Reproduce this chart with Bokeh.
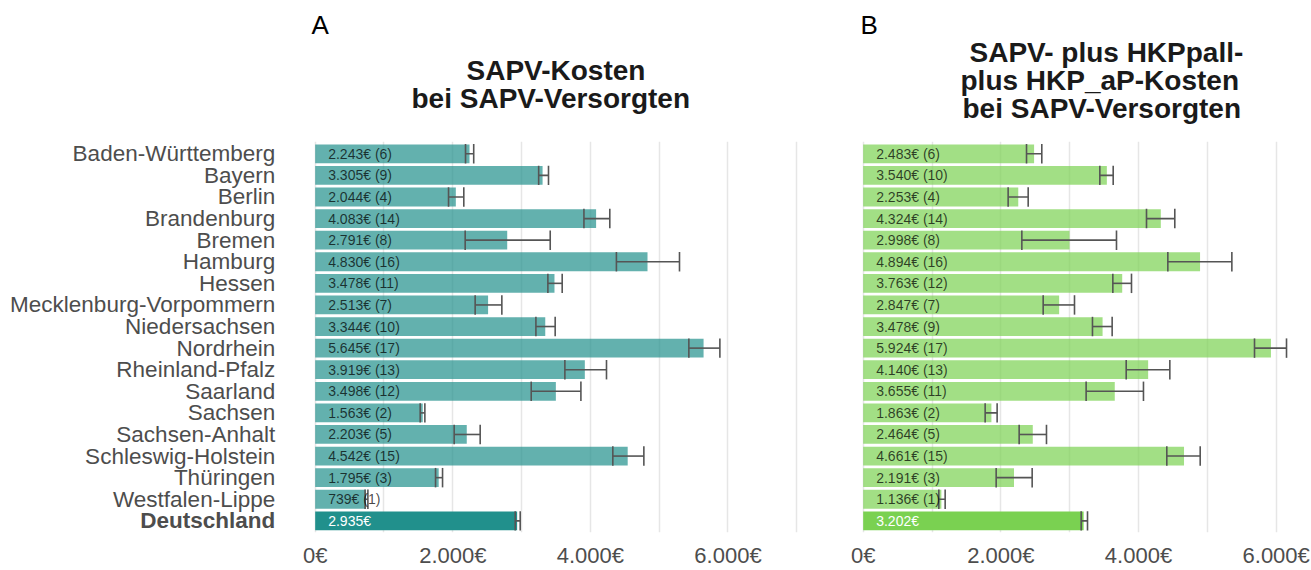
from bokeh.plotting import figure
from bokeh.layouts import row
from bokeh.models import Range1d, FixedTicker, ColumnDataSource, Title
from bokeh.core.properties import value
from bokeh.embed import file_html
from bokeh.resources import INLINE

regions = ["Baden-Württemberg", "Bayern", "Berlin", "Brandenburg", "Bremen",
           "Hamburg", "Hessen", "Mecklenburg-Vorpommern", "Niedersachsen",
           "Nordrhein", "Rheinland-Pfalz", "Saarland", "Sachsen",
           "Sachsen-Anhalt", "Schleswig-Holstein", "Thüringen",
           "Westfalen-Lippe", "Deutschland"]

# Panel A: SAPV-Kosten bei SAPV-Versorgten
values_a = [2243, 3305, 2044, 4083, 2791, 4830, 3478, 2513, 3344, 5645,
            3919, 3498, 1563, 2203, 4542, 1795, 739, 2935]
low_a = [2185, 3248, 1938, 3906, 2180, 4378, 3382, 2325, 3208, 5431,
         3629, 3140, 1526, 2020, 4326, 1749, 725, 2907]
high_a = [2304, 3391, 2160, 4282, 3416, 5295, 3590, 2713, 3488, 5882,
          4234, 3862, 1594, 2398, 4777, 1851, 766, 2980]
ranks_a = [6, 9, 4, 14, 8, 16, 11, 7, 10, 17, 13, 12, 2, 5, 15, 3, 1, None]

# Panel B: SAPV- plus HKPpall- plus HKP_aP-Kosten bei SAPV-Versorgten
values_b = [2483, 3540, 2253, 4324, 2998, 4894, 3763, 2847, 3478, 5924,
            4140, 3655, 1863, 2464, 4661, 2191, 1136, 3202]
low_b = [2373, 3438, 2106, 4116, 2305, 4426, 3627, 2615, 3331, 5685,
         3821, 3239, 1772, 2266, 4411, 1932, 1099, 3167]
high_b = [2595, 3632, 2397, 4527, 3680, 5356, 3898, 3070, 3617, 6150,
          4455, 4072, 1946, 2663, 4896, 2455, 1191, 3259]
ranks_b = [6, 10, 4, 14, 8, 16, 12, 7, 9, 17, 13, 11, 2, 5, 15, 3, 1, None]

x_ticks = [0, 2000, 4000, 6000]
x_tick_labels = ["0€", "2.000€", "4.000€", "6.000€"]
grid_ticks = [0, 1000, 2000, 3000, 4000, 5000, 6000, 7000]

title_a = ["SAPV-Kosten", "bei SAPV-Versorgten"]
title_b = ["SAPV- plus HKPpall-", "plus HKP_aP-Kosten", "bei SAPV-Versorgten"]

FONT = "Liberation Sans"
GREY = "#4d4d4d"


def fmt(v):
    return f"{v:,}".replace(",", ".") + "€"


def make_panel(vals, lows, highs, ranks, base_color, x_start, x_end, width,
               border_left, border_right, show_names):
    n = len(regions)
    ys = [n - 1 - i for i in range(n)]
    labels = [fmt(v) + (f" ({r})" if r is not None else "") for v, r in zip(vals, ranks)]
    is_total = [r is None for r in ranks]
    src = ColumnDataSource(dict(
        y=ys, v=vals, lo=lows, hi=highs, name=regions,
        y0=[y - 0.45 for y in ys], y1=[y + 0.45 for y in ys],
        label=labels, x0=[0] * n,
        alpha=[1.0 if t else 0.7 for t in is_total],
        tcol=["white" if t else "black" for t in is_total],
        talpha=[1.0 if t else 0.72 for t in is_total],
        fstyle=["bold" if t else "normal" for t in is_total],
    ))
    p = figure(width=width, height=570, output_backend="svg", toolbar_location=None,
               x_range=Range1d(x_start, x_end), y_range=Range1d(-0.54, 17.57),
               min_border_left=border_left, min_border_right=border_right,
               min_border_top=141, min_border_bottom=38,
               y_axis_location=None)
    p.outline_line_color = None
    p.background_fill_color = "white"
    p.border_fill_color = "white"

    p.hbar(y="y", left="x0", right="v", height=0.87, source=src,
           fill_color=base_color, fill_alpha="alpha", line_color=None)
    p.segment(x0="lo", x1="hi", y0="y", y1="y", source=src,
              line_color="#555555", line_width=1.6)
    p.segment(x0="lo", x1="lo", y0="y0", y1="y1", source=src,
              line_color="#555555", line_width=1.6)
    p.segment(x0="hi", x1="hi", y0="y0", y1="y1", source=src,
              line_color="#555555", line_width=1.6)
    p.text(x="x0", y="y", text="label", source=src, x_offset=13,
           text_baseline="middle", text_align="left",
           text_font=value(FONT), text_font_size=value("14px"),
           text_color="tcol", text_alpha="talpha")
    if show_names:
        # region names (category labels), Deutschland in bold
        p.text(x="x0", y="y", text="name", source=src, x_offset=-40,
               text_baseline="middle", text_align="right",
               text_font=value(FONT), text_font_size=value("22.5px"),
               text_font_style="fstyle", text_color=GREY)

    p.ygrid.visible = False
    p.xgrid.ticker = FixedTicker(ticks=grid_ticks)
    p.xgrid.grid_line_color = "#e6e6e6"
    p.xgrid.grid_line_width = 1.5

    xa = p.xaxis[0]
    xa.ticker = FixedTicker(ticks=x_ticks)
    xa.major_label_overrides = {t: l for t, l in zip(x_ticks, x_tick_labels)}
    xa.axis_line_color = None
    xa.major_tick_line_color = None
    xa.minor_tick_line_color = None
    xa.major_label_text_font = FONT
    xa.major_label_text_font_size = "22px"
    xa.major_label_text_color = GREY
    xa.major_label_standoff = 4
    return p


def spacer(p, standoff):
    p.add_layout(Title(text=" ", text_font_size="10px", standoff=standoff), "above")


def add_titles(p, letter, letter_off, letter_standoff, lines, offsets,
               line_standoff, bottom_gap, letter_gap):
    # stacked from the frame upwards: gap, last line ... first line, gap, panel letter
    spacer(p, bottom_gap)
    for txt, off in reversed(list(zip(lines, offsets))):
        p.add_layout(Title(text=txt, align="left", offset=off, standoff=line_standoff,
                           vertical_align="bottom", text_font=FONT,
                           text_font_size="28px", text_font_style="bold",
                           text_color="#1a1a1a"), "above")
    if letter_gap is not None:
        spacer(p, letter_gap)
    p.add_layout(Title(text=letter, align="left", offset=letter_off,
                       standoff=letter_standoff, vertical_align="bottom",
                       text_font=FONT, text_font_size="26px",
                       text_font_style="normal", text_color="black"), "above")


# left panel: frame spans the label area too (x < 0 holds the region names)
pa = make_panel(values_a, low_a, high_a, ranks_a, "#21908C", -4574, 7359, 830, 0, 9, True)
pb = make_panel(values_b, low_b, high_b, ranks_b, "#7AD151", -344, 6513, 481, 9, 0, False)

add_titles(pa, "A", 311, 0, title_a, [466, 411], -4.88, 16.6, 2.7)
add_titles(pb, "B", 21, -4.7, title_b, [130, 121, 123], -4.98, 7.08, None)

layout = row(pa, pb)
open("out.html", "w").write(file_html(layout, INLINE))
